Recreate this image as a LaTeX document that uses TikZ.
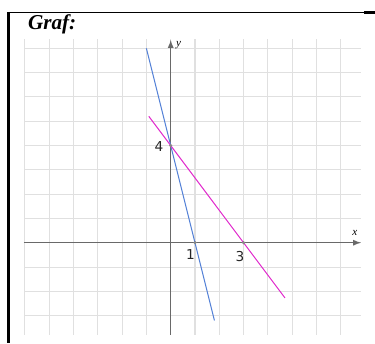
\documentclass[tikz,border=0pt]{standalone}
\usepackage{fontspec}
\setmainfont{Liberation Serif}
\newfontfamily\cislafont{DejaVu Sans}
\definecolor{mrizka}{RGB}{224,224,224}
\definecolor{osa}{RGB}{105,105,105}
\definecolor{modra}{RGB}{85,130,215}
\definecolor{fialova}{RGB}{225,45,205}
\begin{document}
\begin{tikzpicture}[x=0.5cm,y=0.5cm,
  mrizka/.style={draw=mrizka, line width=0.6pt, step=0.5cm},
  osy/.style={draw=osa, line width=0.6pt, -latex},
  primka/.style={line width=0.6pt},
  bod/.style={circle, fill=osa!80, inner sep=0pt, minimum size=2pt},
  cislo/.style={font=\cislafont\fontsize{8}{9}\selectfont, text=black!85, inner sep=0pt},
  popis/.style={font=\itshape\fontsize{6.5}{7}\selectfont, inner sep=0pt}]

\useasboundingbox (-7.025,-4.128) rectangle (8.407,9.988);

% Okraj
\draw[line width=0.6pt] (-6.69,9.47) -- (8.41,9.47);
\draw[line width=1.3pt] (7.96,9.47) -- (8.41,9.47);
\draw[line width=1.6pt] (-6.67,9.50) -- (-6.67,-4.13);

\node[font=\bfseries\itshape\fontsize{12.4}{14}\selectfont]
  (nadpis) at (-4.88,8.99) {Graf:};

% Mrizka
\draw[mrizka] (-6.04,-3.78) grid (7.83,8.38);

% Osy
\coordinate (xzac) at (-6.04,0);
\coordinate (xkon) at (7.83,0);
\coordinate (yzac) at (0,-3.78);
\coordinate (ykon) at (0,8.34);
\draw[osy] (xzac) -- (xkon);
\draw[osy] (yzac) -- (ykon);
\node[popis] (xpopis) at (7.58,0.40) {x};
\node[popis] (ypopis) at (0.32,8.13) {y};

% Primky
\draw[primka, modra] (-1.0,8.0) -- (1.8,-3.2);
\draw[primka, fialova] (-0.9,5.2) -- (4.7,-2.27);

% Body
\node[bod] (a) at (0,4) {};
\node[bod] (b) at (1,0) {};
\node[bod] (c) at (3,0) {};

\node[cislo] (ctyri) at (-0.48,3.94) {4};
\node[cislo] (jedna) at (0.81,-0.47) {1};
\node[cislo] (tri) at (2.85,-0.55) {3};

\end{tikzpicture}
\end{document}
